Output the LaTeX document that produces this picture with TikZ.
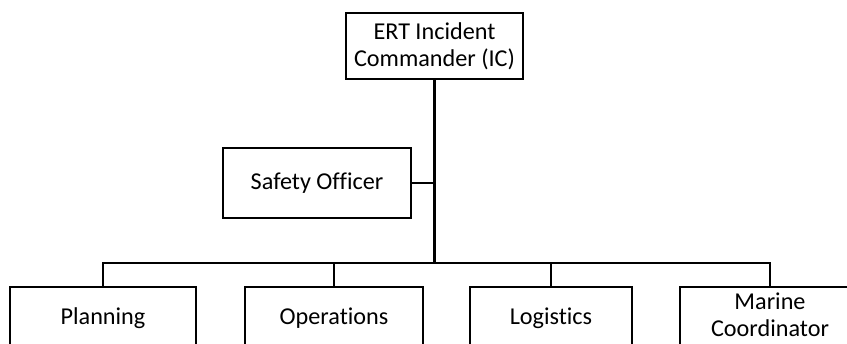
\documentclass[tikz,border=0pt]{standalone}
\usepackage{fontspec}
\setmainfont{Carlito}[Ligatures=NoCommon]
\begin{document}
\begin{tikzpicture}[x=1pt,y=-1pt,
  box/.style={draw, line width=2.6pt, rectangle, align=center, inner sep=0pt,
    font=\fontsize{24.2}{27}\selectfont},
  conn/.style={line width=2.8pt}]
\useasboundingbox (0,0) rectangle (847,344);
\clip (0,0) rectangle (847,344);
\node[box, minimum width=177pt, minimum height=66pt] (ic) at (434.5,46) {ERT Incident\\Commander (IC)};
\node[box, minimum width=188pt, minimum height=70pt] (safety) at (317,183) {Safety Officer};
\node[box, minimum width=186pt, minimum height=62pt] (plan) at (103,318) {Planning};
\node[box, minimum width=178pt, minimum height=62pt] (ops) at (334,318) {Operations};
\node[box, minimum width=162pt, minimum height=62pt] (log) at (551,318) {Logistics};
\node[box, minimum width=180pt, minimum height=62pt] (marine) at (770,318)
  {\raisebox{3pt}{\begin{tabular}{@{}c@{}}Marine\\Coordinator\end{tabular}}};
\coordinate (bus) at (434.5,263);
\draw[conn] (ic.south) -- (bus);
\draw[conn] (safety.east) -- (safety.east -| ic.south);
\draw[conn] (plan.north) -- (plan.north |- bus) -- (marine.north |- bus) -- (marine.north);
\draw[conn] (ops.north) -- (ops.north |- bus);
\draw[conn] (log.north) -- (log.north |- bus);
\end{tikzpicture}
\end{document}
